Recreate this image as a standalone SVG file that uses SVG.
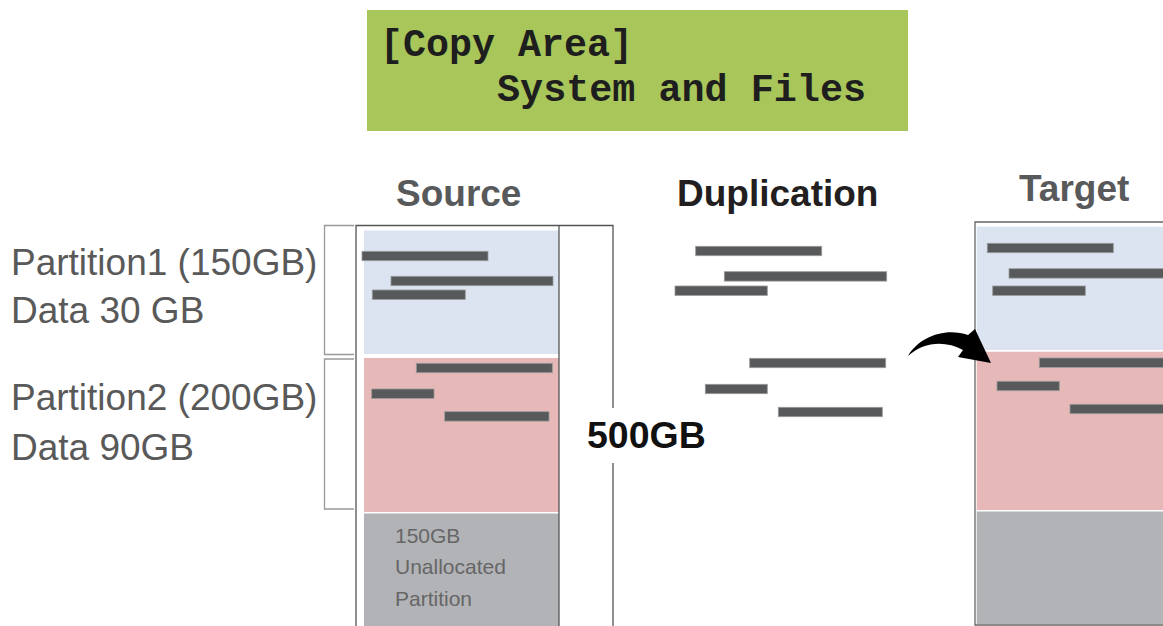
<svg xmlns="http://www.w3.org/2000/svg" width="1163" height="626" viewBox="0 0 1163 626">
<style>
.bar{fill:#58595b;stroke:#9a9a9a;stroke-width:0.8}
.blue{fill:#dbe4f0}
.pink{fill:#e6b8b7}
.gray{fill:#b2b3b6}
.head{font-family:"Liberation Sans",Arial,sans-serif;font-weight:bold;font-size:37px}
.lbl{font-family:"Liberation Sans",Arial,sans-serif;font-size:37px;fill:#595959}
.un{font-family:"Liberation Sans",Arial,sans-serif;font-size:21px;fill:#666666}
.lcd{font-family:"Liberation Mono","DejaVu Sans Mono",monospace;font-size:38px;font-weight:bold;fill:#1e1e1e}
.brk{fill:none;stroke:#999999;stroke-width:1.3}
.ln{fill:none;stroke:#222222;stroke-width:1.3}
</style>
<rect width="1163" height="626" fill="#ffffff"/>

<g id="banner">
<rect x="367" y="10" width="541" height="121" fill="#a8c659"/>
<text class="lcd" x="380" y="56" textLength="253" lengthAdjust="spacingAndGlyphs">[Copy Area]</text>
<text class="lcd" x="497" y="101" textLength="369" lengthAdjust="spacingAndGlyphs">System and Files</text>
</g>

<g id="titles">
<text class="head" x="396" y="206" fill="#58595b">Source</text>
<text class="head" x="677" y="206" fill="#231f20">Duplication</text>
<text class="head" x="1019" y="201" fill="#58595b">Target</text>
</g>

<g id="labels">
<text class="lbl" x="11" y="275">Partition1 (150GB)</text>
<text class="lbl" x="11" y="323">Data 30 GB</text>
<text class="lbl" x="11" y="410">Partition2 (200GB)</text>
<text class="lbl" x="11" y="460">Data 90GB</text>
<path class="brk" d="M354,225.5 H324.5 V354.5 H354"/>
<path class="brk" d="M354,359 H324.5 V509 H354"/>
</g>

<g id="source">
<rect class="blue" x="364" y="230.5" width="195" height="123.5"/>
<rect class="pink" x="364" y="358" width="195" height="154"/>
<rect class="gray" x="364" y="513.5" width="195" height="112.5"/>
<path class="ln" d="M356,626 V225.5 H613 V408 M613,463 V626 M559,225.5 V626" style="stroke:#555"/>
<rect class="bar" x="362" y="251.3" width="126" height="9.4"/>
<rect class="bar" x="391" y="276.3" width="162" height="9.4"/>
<rect class="bar" x="372.3" y="290" width="93" height="9.4"/>
<rect class="bar" x="416.3" y="363.3" width="136" height="9.4"/>
<rect class="bar" x="371.7" y="389" width="62.3" height="9.4"/>
<rect class="bar" x="444.7" y="411.7" width="104.3" height="9.4"/>
<text class="un" x="395" y="543">150GB</text>
<text class="un" x="395" y="574">Unallocated</text>
<text class="un" x="395" y="606">Partition</text>
<text class="head" x="587" y="448" fill="#111111" style="font-size:37.5px">500GB</text>
</g>

<g id="duplication">
<rect class="bar" x="695.7" y="246.3" width="126" height="9.4"/>
<rect class="bar" x="724.3" y="271.7" width="162.4" height="9.4"/>
<rect class="bar" x="675" y="286" width="92.3" height="9.4"/>
<rect class="bar" x="749.7" y="358.3" width="136" height="9.4"/>
<rect class="bar" x="705.3" y="384.3" width="62" height="9.4"/>
<rect class="bar" x="778.3" y="407.3" width="104" height="9.4"/>
</g>

<g id="target">
<rect class="blue" x="976.7" y="226.7" width="186.3" height="123.3"/>
<rect class="pink" x="976.7" y="351.7" width="186.3" height="158.3"/>
<rect class="gray" x="976.7" y="511.5" width="186.3" height="112.5"/>
<path class="ln" d="M1163,222 H975 V625 H1163" style="stroke:#666"/>
<rect class="bar" x="987.3" y="243.3" width="126" height="9.4"/>
<rect class="bar" x="1009" y="268.7" width="160" height="9.4"/>
<rect class="bar" x="992.7" y="286" width="92.6" height="9.4"/>
<rect class="bar" x="1039.3" y="358" width="130" height="9.4"/>
<rect class="bar" x="997" y="381.3" width="62.3" height="9.4"/>
<rect class="bar" x="1070" y="404.3" width="100" height="9.4"/>
</g>

<g id="connectors">
<path d="M908,356 C919,337 945,327 968,335 L975,329 L991,363 L958,357 L963,350 C945,340 923,342 908,356 Z" fill="#000000"/>
</g>
</svg>
